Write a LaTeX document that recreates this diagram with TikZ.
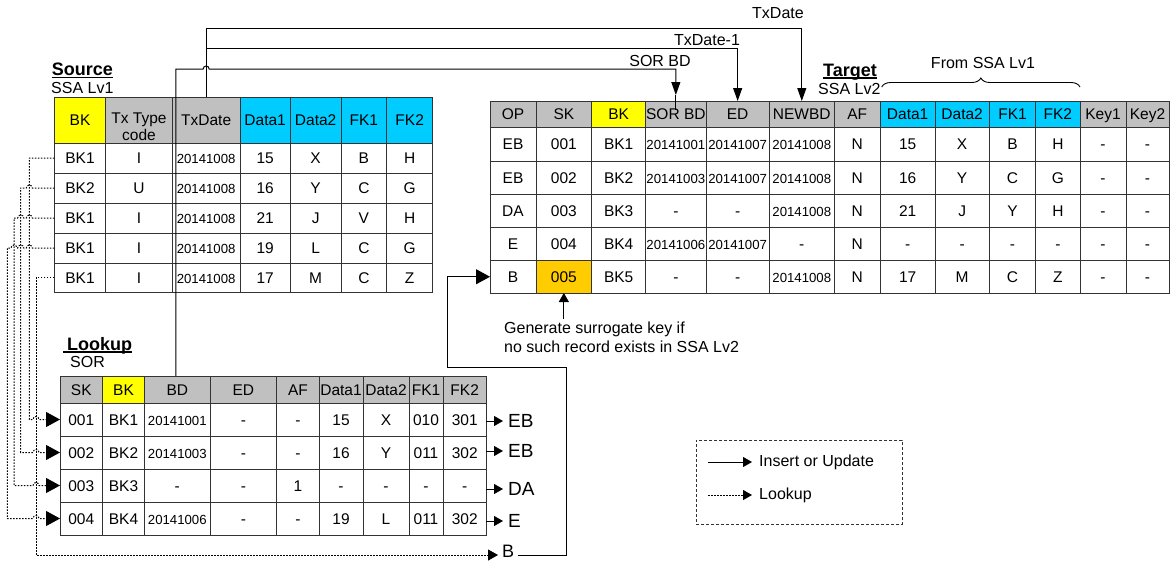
\documentclass[tikz,border=0pt]{standalone}
\usepackage{fontspec}
\setmainfont{Liberation Sans}
\usetikzlibrary{arrows.meta,decorations.pathreplacing,calc}
\definecolor{hgray}{HTML}{C0C0C0}
\definecolor{hcyan}{HTML}{00CCFF}
\definecolor{hyel}{HTML}{FFFF00}
\definecolor{horg}{HTML}{FFCC00}
\definecolor{linec}{HTML}{333333}
\newcommand\dt[1]{{\fontsize{13.2}{15}\selectfont #1}}
\def\SX{{54.3,105.7,172.3,240,290.3,341,386.7,432.7}}
\def\TX{{490,536,591.7,645.7,706,769.3,834.3,880.3,935,989.3,1035.7,1080,1126,1169}}
\def\LX{{60,102.5,144.6,210,276.8,319,363,409,443,486.4}}
\newcommand\mkcell[7]{%
  \pgfmathsetmacro\mkXa{#2[#3-1]}%
  \pgfmathsetmacro\mkXb{#2[#3]}%
  \pgfmathsetmacro\mkW{\mkXb-\mkXa}%
  \pgfmathsetmacro\mkH{#5-#4}%
  \pgfmathsetmacro\mkCx{(\mkXa+\mkXb)/2}%
  \pgfmathsetmacro\mkCy{(#4+#5)/2}%
  \node[cell,fill=#6,minimum width=\mkW pt,minimum height=\mkH pt] (#1) at (\mkCx,\mkCy) {#7};%
}
\begin{document}
\begin{tikzpicture}[x=1pt,y=-1pt,
  cell/.style={draw=linec,line width=0.9pt,inner sep=0pt,outer sep=0pt,text height=11pt,text depth=0pt,font=\fontsize{15.5}{18}\selectfont},
  lbl/.style={inner sep=0pt,font=\fontsize{16}{19}\selectfont},
  ttl/.style={inner sep=0pt,font=\fontsize{18}{21}\selectfont\bfseries},
  oplbl/.style={inner sep=0pt,font=\fontsize{19}{22}\selectfont},
  ins/.style={line width=1pt,draw=black},
  look/.style={line width=1pt,draw=black,dash pattern=on 1.5pt off 1.5pt},
  bigtri/.style={-{Triangle[length=14pt,width=15pt]}},
  midtri/.style={-{Triangle[length=10pt,width=11pt]}},
  smtri/.style={-{Triangle[length=9pt,width=10pt]}},
  toptri/.style={-{Triangle[length=13pt,width=9pt]}},
]
\useasboundingbox (0,0) rectangle (1170,563);
\fill[white] (0,0) rectangle (1170,563);

% ---------- Source table ----------
\foreach \ci/\fc/\tx in {1/hyel/BK,3/hgray/TxDate,4/hcyan/Data1,5/hcyan/Data2,6/hcyan/FK1,7/hcyan/FK2}
  {\mkcell{sh-\ci}{\SX}{\ci}{97}{143}{\fc}{\tx}}
\mkcell{sh-2}{\SX}{2}{97}{143}{hgray}{\raisebox{-15pt}[11pt][0pt]{\shortstack{Tx Type\\code}}}
\foreach \ci/\tx in {1/BK1,2/I,3/\dt{20141008},4/15,5/X,6/B,7/H}
  {\mkcell{s-1-\ci}{\SX}{\ci}{143}{173}{white}{\tx}}
\foreach \ci/\tx in {1/BK2,2/U,3/\dt{20141008},4/16,5/Y,6/C,7/G}
  {\mkcell{s-2-\ci}{\SX}{\ci}{173}{203}{white}{\tx}}
\foreach \ci/\tx in {1/BK1,2/I,3/\dt{20141008},4/21,5/J,6/V,7/H}
  {\mkcell{s-3-\ci}{\SX}{\ci}{203}{233}{white}{\tx}}
\foreach \ci/\tx in {1/BK1,2/I,3/\dt{20141008},4/19,5/L,6/C,7/G}
  {\mkcell{s-4-\ci}{\SX}{\ci}{233}{263}{white}{\tx}}
\foreach \ci/\tx in {1/BK1,2/I,3/\dt{20141008},4/17,5/M,6/C,7/Z}
  {\mkcell{s-5-\ci}{\SX}{\ci}{263}{292}{white}{\tx}}

% ---------- Target table ----------
\foreach \ci/\fc/\tx in {1/hgray/OP,2/hgray/SK,3/hyel/BK,4/hgray/SOR BD,5/hgray/ED,6/hgray/NEWBD,7/hgray/AF,8/hcyan/Data1,9/hcyan/Data2,10/hcyan/FK1,11/hcyan/FK2,12/hgray/Key1,13/hgray/Key2}
  {\mkcell{th-\ci}{\TX}{\ci}{101}{127.5}{\fc}{\tx}}
\foreach \ci/\tx in {1/EB,2/001,3/BK1,4/\dt{20141001},5/\dt{20141007},6/\dt{20141008},7/N,8/15,9/X,10/B,11/H,12/-,13/-}
  {\mkcell{t-1-\ci}{\TX}{\ci}{127.5}{161}{white}{\tx}}
\foreach \ci/\tx in {1/EB,2/002,3/BK2,4/\dt{20141003},5/\dt{20141007},6/\dt{20141008},7/N,8/16,9/Y,10/C,11/G,12/-,13/-}
  {\mkcell{t-2-\ci}{\TX}{\ci}{161}{194}{white}{\tx}}
\foreach \ci/\tx in {1/DA,2/003,3/BK3,4/-,5/-,6/\dt{20141008},7/N,8/21,9/J,10/Y,11/H,12/-,13/-}
  {\mkcell{t-3-\ci}{\TX}{\ci}{194}{227}{white}{\tx}}
\foreach \ci/\tx in {1/E,2/004,3/BK4,4/\dt{20141006},5/\dt{20141007},6/-,7/N,8/-,9/-,10/-,11/-,12/-,13/-}
  {\mkcell{t-4-\ci}{\TX}{\ci}{227}{260.5}{white}{\tx}}
\foreach \ci/\fc/\tx in {1/white/B,2/horg/005,3/white/BK5,4/white/-,5/white/-,6/white/\dt{20141008},7/white/N,8/white/17,9/white/M,10/white/C,11/white/Z,12/white/-,13/white/-}
  {\mkcell{t-5-\ci}{\TX}{\ci}{260.5}{293}{\fc}{\tx}}

% ---------- Lookup table ----------
\foreach \ci/\fc/\tx in {1/hgray/SK,2/hyel/BK,3/hgray/BD,4/hgray/ED,5/hgray/AF,6/hgray/Data1,7/hgray/Data2,8/hgray/FK1,9/hgray/FK2}
  {\mkcell{lh-\ci}{\LX}{\ci}{376}{403}{\fc}{\tx}}
\foreach \ci/\tx in {1/001,2/BK1,3/\dt{20141001},4/-,5/-,6/15,7/X,8/010,9/301}
  {\mkcell{l-1-\ci}{\LX}{\ci}{403}{436}{white}{\tx}}
\foreach \ci/\tx in {1/002,2/BK2,3/\dt{20141003},4/-,5/-,6/16,7/Y,8/011,9/302}
  {\mkcell{l-2-\ci}{\LX}{\ci}{436}{469}{white}{\tx}}
\foreach \ci/\tx in {1/003,2/BK3,3/-,4/-,5/1,6/-,7/-,8/-,9/-}
  {\mkcell{l-3-\ci}{\LX}{\ci}{469}{502}{white}{\tx}}
\foreach \ci/\tx in {1/004,2/BK4,3/\dt{20141006},4/-,5/-,6/19,7/L,8/011,9/302}
  {\mkcell{l-4-\ci}{\LX}{\ci}{502}{535}{white}{\tx}}

% ---------- Titles ----------
\node[ttl,anchor=base west] (srcT) at (51.7,75.7) {Source};
\draw[line width=1.5pt] ([yshift=-1.8pt]srcT.base west) -- ([yshift=-1.8pt]srcT.base east);
\node[lbl,anchor=base west] (srcS) at (51,93.7) {SSA Lv1};
\node[ttl,anchor=base west] (tgtT) at (823,76.4) {Target};
\draw[line width=1.5pt] ([yshift=-1.8pt]tgtT.base west) -- ([yshift=-1.8pt]tgtT.base east);
\node[lbl,anchor=base west] (tgtS) at (818,94.9) {SSA Lv2};
\node[ttl,anchor=base west] (lkT) at (67,350) {Lookup};
\draw[line width=1.5pt] ([xshift=-4pt,yshift=-1.8pt]lkT.base west) -- ([yshift=-1.8pt]lkT.base east);
\node[lbl,anchor=base west] (lkS) at (70,367.4) {SOR};

% brace
\draw[line width=0.9pt,decorate,decoration={brace,amplitude=9pt}] (881.7,87) -- (1080,87);
\node[lbl,anchor=base] (fromL) at (983,68) {From SSA Lv1};

% ---------- Top connectors ----------
\draw[ins,toptri] (sh-3.north) -- (sh-3.north |- 0,28) -| (th-6.north);
\draw[ins,toptri] (sh-3.north |- 0,48.5) -| (th-5.north);
\draw[ins,toptri] ([xshift=-1.5pt]lh-3.north) -- ([xshift=-1.5pt]lh-3.north |- 0,69) -- (203.15,69)
   arc[start angle=180,end angle=0,radius=3pt] -- (th-4.north |- 0,69) -- ([yshift=6pt]th-4.north);
\draw[ins] ([yshift=6pt]th-4.north) -- ([yshift=-9pt]th-4.north);
\node[lbl,anchor=base] (lTx) at (778,18.4) {TxDate};
\node[lbl,anchor=base] (lTx1) at (707,45.4) {TxDate-1};
\node[lbl,anchor=base] (lSor) at (660,66.4) {SOR BD};

% ---------- Lookup (dotted) connectors ----------
\draw[look,bigtri] (s-1-1.west) -- (29.3,158) -- (29.3,419.5) -- (33,419.5)
   arc[start angle=180,end angle=0,radius=3pt] -- (l-1-1.west);
\draw[look,bigtri] (s-2-1.west) -- (32.3,188) arc[start angle=0,end angle=180,radius=3pt]
   -- (20.7,188) -- (20.7,452.5) -- (33,452.5)
   arc[start angle=180,end angle=0,radius=3pt] -- (l-2-1.west);
\draw[look,bigtri] (s-3-1.west) -- (32.3,218) arc[start angle=0,end angle=180,radius=3pt]
   -- (23.7,218) arc[start angle=0,end angle=180,radius=3pt]
   -- (14,218) -- (14,485.5) -- (33,485.5)
   arc[start angle=180,end angle=0,radius=3pt] -- (l-3-1.west);
\draw[look,bigtri] (s-4-1.west) -- (32.3,248) arc[start angle=0,end angle=180,radius=3pt]
   -- (23.7,248) arc[start angle=0,end angle=180,radius=3pt]
   -- (17,248) arc[start angle=0,end angle=180,radius=3pt]
   -- (7.3,248) -- (7.3,518.5) -- (33,518.5)
   arc[start angle=180,end angle=0,radius=3pt] -- (l-4-1.west);

% ---------- Operation labels ----------
\node[oplbl,anchor=west] (op1) at (508,421) {EB};
\node[oplbl,anchor=west] (op2) at (508,451) {EB};
\node[oplbl,anchor=west] (op3) at (508,489) {DA};
\node[oplbl,anchor=west] (op4) at (508,521) {E};
\node[inner sep=0pt,font=\fontsize{18}{20}\selectfont,anchor=base west] (lB) at (502,557.5) {B};
\draw[ins,smtri] (l-1-9.east |- op1.west) -- ([xshift=-5pt]op1.west);
\draw[ins,smtri] (l-2-9.east |- op2.west) -- ([xshift=-5pt]op2.west);
\draw[ins,smtri] (l-3-9.east |- op3.west) -- ([xshift=-5pt]op3.west);
\draw[ins,smtri] (l-4-9.east |- op4.west) -- ([xshift=-5pt]op4.west);

\draw[look,midtri] (s-5-1.west) -- (36,277.5) -- (36,555) -- ([xshift=-4pt]lB.west |- 0,555);
\draw[ins,bigtri] ([xshift=4pt]lB.east |- 0,555) -- (566,555) -- (566,367) -- (447,367) -- (447,276.75) -- (t-5-1.west);

% surrogate note
\node[lbl,anchor=north west,align=left,font=\fontsize{16}{18.5}\selectfont] (gen) at (504,322)
   {Generate surrogate key if\\no such record exists in SSA Lv2};
\draw[ins,smtri] (t-5-2.south |- 0,319) -- (t-5-2.south);

% ---------- Legend ----------
\node[draw=linec,line width=1pt,dash pattern=on 3pt off 2pt,minimum width=206pt,minimum height=84pt,inner sep=0pt] (legend) at (799,482) {};
\node[lbl,anchor=west] (legI) at (759,462) {Insert or Update};
\node[lbl,anchor=west] (legL) at (759,495) {Lookup};
\draw[ins,smtri] (legI.west -| 708,0) -- ([xshift=-7pt]legI.west);
\draw[look,smtri] (legL.west -| 708,0) -- ([xshift=-7pt]legL.west);
\end{tikzpicture}
\end{document}
